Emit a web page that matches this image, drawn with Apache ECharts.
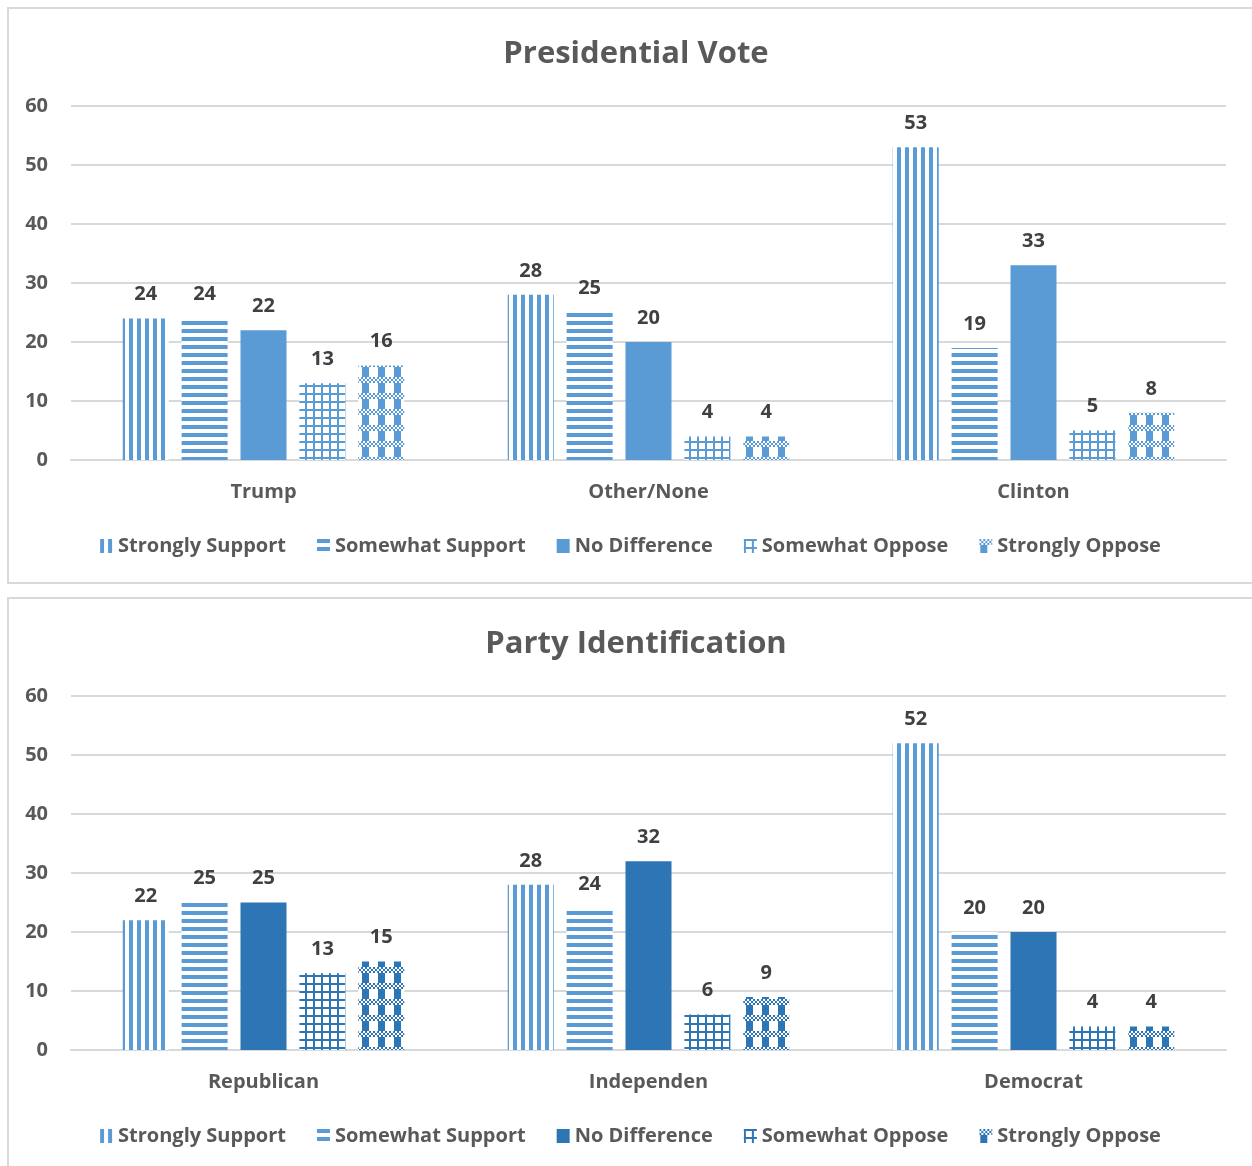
<!DOCTYPE html>
<html><head><meta charset="utf-8">
<script src="https://cdn.jsdelivr.net/npm/echarts@6/dist/echarts.min.js"></script>
<style>
html,body{margin:0;padding:0;background:#fff;width:1252px;height:1166px;overflow:hidden;}
.panel{position:absolute;border:2px solid #d9d9d9;box-sizing:border-box;overflow:hidden;}
.chart{position:absolute;left:0;top:0;}
</style></head>
<body>
<div class="panel" id="p1" style="left:7px;top:7px;width:1260px;height:577px;"><div class="chart" id="c1" style="width:1243px;height:573px;"></div></div>
<div class="panel" id="p2" style="left:7px;top:597px;width:1260px;height:600px;"><div class="chart" id="c2" style="width:1243px;height:596px;"></div></div>
<script>
const seriesNames = ['Strongly Support','Somewhat Support','No Difference','Somewhat Oppose','Strongly Oppose'];
const voteCategories = ['Trump','Other/None','Clinton'];
const voteStronglySupport = [24,28,53];
const voteSomewhatSupport = [24,25,19];
const voteNoDifference = [22,20,33];
const voteSomewhatOppose = [13,4,5];
const voteStronglyOppose = [16,4,8];
const partyCategories = ['Republican','Independen','Democrat'];
const partyStronglySupport = [22,28,52];
const partySomewhatSupport = [25,24,20];
const partyNoDifference = [25,32,20];
const partySomewhatOppose = [13,6,4];
const partyStronglyOppose = [15,9,4];
const yTicks = [0,10,20,30,40,50,60];

const LIGHT = '#5B9BD5', DARK = '#2E75B6';
const FONT = '"Open Sans", sans-serif';

function pattern(type, color){
  const c = document.createElement('canvas');
  let w=8,h=8;
  if(type==='check'){w=16;h=16;}
  c.width=w;c.height=h;
  const g=c.getContext('2d');
  g.fillStyle='#fff';g.fillRect(0,0,w,h);
  g.fillStyle=color;
  if(type==='vert'){g.fillRect(0,0,4,h);}
  else if(type==='horiz'){g.fillRect(0,0,w,4);}
  else if(type==='grid'){g.fillRect(0,0,2,h);g.fillRect(0,0,w,2);}
  else if(type==='check'){
    for(let y=0;y<6;y+=2){for(let x=0;x<16;x+=2){ if(((x+y)/2)%2===0) g.fillRect(x,y,2,2);} }
    g.fillRect(1,6,7,10);
  }
  else {g.fillRect(0,0,w,h);}
  return {image:c, repeat:'repeat'};
}

function build(el, title, cats, data, colors){
  const types=['vert','horiz','solid','grid','check'];
  const chart = echarts.init(document.getElementById(el), null, {renderer:'canvas'});
  chart.setOption({
    animation:false,
    title:{text:title,left:622,textAlign:'center',top:25,textStyle:{fontFamily:FONT,fontSize:31,fontWeight:'bold',color:'#595959'}},
    legend:{data:seriesNames,icon:'rect',left:'center',top:522,itemWidth:13,itemHeight:14,itemGap:31,
      textStyle:{fontFamily:FONT,fontSize:20,fontWeight:'bold',color:'#595959'}},
    grid:{left:62,top:97,width:1155,height:354,containLabel:false},
    xAxis:{type:'category',data:cats,axisLine:{lineStyle:{color:'#d9d9d9',width:2}},axisTick:{show:false},
      axisLabel:{margin:22,fontFamily:FONT,fontSize:20,fontWeight:'bold',color:'#595959'}},
    yAxis:{type:'value',min:yTicks[0],max:yTicks[yTicks.length-1],interval:10,axisLine:{show:false},axisTick:{show:false},
      splitLine:{lineStyle:{color:'#d9d9d9',width:2}},
      axisLabel:{margin:23,fontFamily:FONT,fontSize:20,fontWeight:'bold',color:'#595959'}},
    series:seriesNames.map((n,i)=>({
      name:n,type:'bar',data:data[i],barWidth:46,barGap:'28%',
      itemStyle:{color:pattern(types[i],colors[i])},
      label:{show:true,position:'top',distance:14,fontFamily:FONT,fontSize:20,fontWeight:'bold',color:'#404040'}
    }))
  });
}
build('c1','Presidential Vote',voteCategories,
  [voteStronglySupport,voteSomewhatSupport,voteNoDifference,voteSomewhatOppose,voteStronglyOppose],
  [LIGHT,LIGHT,LIGHT,LIGHT,LIGHT]);
build('c2','Party Identification',partyCategories,
  [partyStronglySupport,partySomewhatSupport,partyNoDifference,partySomewhatOppose,partyStronglyOppose],
  [LIGHT,LIGHT,DARK,DARK,DARK]);
</script>
</body></html>
